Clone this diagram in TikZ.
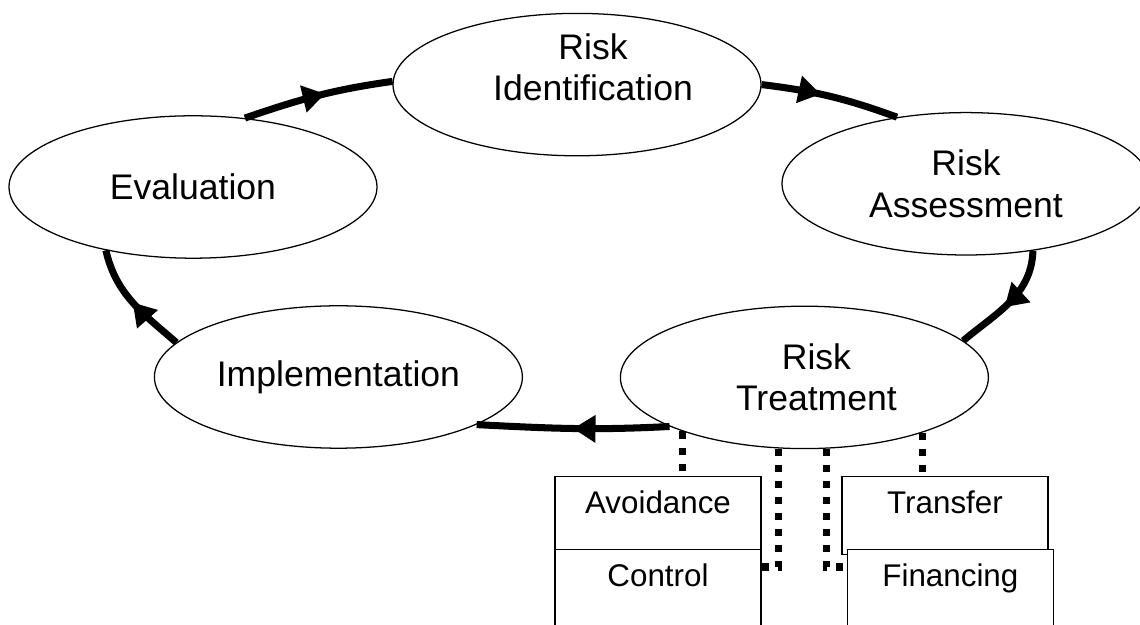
\documentclass[tikz,border=0pt]{standalone}
\usepackage{fontspec}
\setmainfont{Liberation Sans}
\usetikzlibrary{shapes.geometric, arrows.meta, decorations.markings, calc}
\tikzstyle{phasetext} = [align=center, font=\fontsize{25.3}{29.2}\selectfont]
\tikzstyle{phase} = [ellipse, draw=black, line width=0.9pt, fill=white, minimum width=9.2cm, minimum height=3.56cm, inner sep=0, phasetext]
\tikzstyle{option} = [rectangle, draw=black, line width=0.8pt, fill=white, minimum width=5.15cm, inner sep=0, text height=0.925cm, text depth=1.025cm, anchor=north, font=\fontsize{22.3}{26}\selectfont]
\tikzstyle{link} = [line width=5pt, dash pattern=on 5pt off 6.4pt]
\tikzset{flow/.style={line width=5pt, postaction={decorate}, decoration={markings, mark=at position #1 with {\arrow{Triangle[length=0.56cm,width=0.66cm]}}}}}

\begin{document}
\begin{tikzpicture}
\useasboundingbox (0,0) rectangle (28.5,15.625);
\node[phase] (eval) at (4.825,10.95) {Evaluation};
\node[phase, label={[phasetext, xshift=0.4cm, yshift=0.44cm]center:Risk\\Identification}] (ident) at (14.425,13.51) {};
\node[phase] (assess) at (24.15,11.03) {Risk\\Assessment};
\node[phase, label={[phasetext, xshift=0.3cm]center:Risk\\Treatment}] (treat) at (20.11,6.19) {};
\node[phase] (impl) at (8.46,6.2) {Implementation};
\node[option] (avoid) at (16.45,3.725) {Avoidance};
\node[option] (control) at (16.45,1.9) {Control};
\node[option] (transfer) at (23.625,3.725) {Transfer};
\node[option] (financing) at (23.76,1.9) {Financing};
\foreach \from/\fa/\goal/\ga/\o/\i/\p in {eval/53/ident/179/19/188/0.55, ident/0/assess/136/-7/160/0.43, assess/-45/treat/13/-92/40/0.55, treat/-160/impl/-19/183/-3/0.5, impl/168/eval/-144/139/-77/0.5}
	\draw[flow=\p] (\from.\fa) to[out=\o, in=\i] (\goal.\ga);
\draw[link] (treat.-156) -- (treat.-156 |- avoid.north);
\draw[link] (treat.-25) -- (treat.-25 |- transfer.north);
\draw[link] (treat.-110) |- ($(control.north east)+(0,-0.45)$);
\draw[link] (treat.-73) |- ($(financing.north west)+(0,-0.45)$);
\end{tikzpicture}
\end{document}
